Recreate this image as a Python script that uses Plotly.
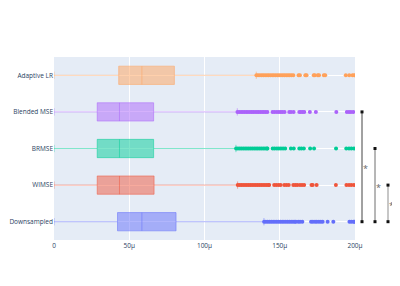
import plotly.graph_objects as go

# categories bottom -> top
categories = ["Downsampled", "WIMSE", "BRMSE", "Blended MSE", "Adaptive LR"]
colors = ["#636EFA", "#EF553B", "#00CC96", "#AB63FA", "#FFA15A"]

# box statistics (microseconds)
lower_fence = [0, 0, 0, 0, 0]
q1 = [42.2, 28.7, 28.7, 28.7, 43.0]
median = [58.4, 43.5, 43.5, 43.5, 58.4]
q3 = [81.1, 66.5, 66.2, 66.2, 80.0]
upper_fence = [139.5, 122.0, 120.9, 121.8, 134.4]

# outliers (microseconds)
out_downsampled = [139.6, 140.8, 142.0, 143.2, 144.4, 145.6, 146.8, 148.0, 149.2, 150.4,
                   151.6, 152.8, 154.0, 155.2, 156.4, 157.6, 158.8, 160.0, 160.7,
                   162.3, 163.5, 165.0, 170.8, 172.0, 173.4, 174.6, 176.0, 177.3, 178.5,
                   181.8, 185.6, 196.3, 197.6, 199.0, 199.8]
out_wimse = [122.1, 123.3, 124.5, 125.7, 126.9, 128.1, 129.3, 130.5, 131.7, 132.9, 134.1,
             135.3, 136.5, 137.7, 138.9, 140.1, 141.3, 142.5, 143.0,
             146.3, 147.7, 149.2, 150.6, 153.0, 154.5, 156.0, 159.0, 160.4, 161.7,
             163.4, 164.8, 166.2, 171.1, 171.9, 174.5, 187.3, 194.3, 196.0, 197.5, 199.2]
out_brmse = [121.0, 122.2, 123.4, 124.6, 125.8, 127.0, 128.2, 129.4, 130.6, 131.8, 133.0,
             134.2, 135.4, 136.6, 137.8, 139.0, 140.2, 141.4, 141.8,
             145.3, 146.6, 148.1, 149.4, 150.8, 152.2, 153.6, 157.4, 159.3,
             163.0, 164.4, 166.0, 170.2, 172.8, 187.4, 194.2, 196.0, 197.6, 199.3]
out_blended = [121.9, 123.1, 124.3, 125.4, 126.6, 127.8, 128.9, 130.1, 131.3, 132.4, 133.6,
               134.8, 135.9, 137.1, 138.3, 139.4, 140.6, 141.8,
               145.2, 146.5, 148.0, 149.3, 150.6, 151.8, 153.2, 156.3, 157.5, 159.2,
               163.0, 164.0, 165.2, 166.3, 170.0, 174.0, 187.6, 194.6, 196.0, 197.3, 198.8]
out_adaptive = [134.5, 135.6, 136.8, 138.0, 139.1, 140.3, 141.5, 142.6, 143.8, 145.0, 146.1,
                147.3, 148.5, 149.6, 150.8, 152.0, 153.1, 154.3, 155.5, 156.6, 157.8, 159.0,
                162.5, 163.4, 167.0, 167.8, 172.6, 173.3, 175.3, 176.1, 179.3, 180.2,
                193.9, 196.2, 198.4, 199.6]
outliers = [out_downsampled, out_wimse, out_brmse, out_blended, out_adaptive]

# significance brackets: (category a, category b, label)
brackets = [("Blended MSE", "Downsampled", "*"),
            ("BRMSE", "Downsampled", "*"),
            ("WIMSE", "Downsampled", "*")]

tick_vals = [0, 50, 100, 150, 200]
tick_text = ["0", "50\u03bc", "100\u03bc", "150\u03bc", "200\u03bc"]

fig = go.Figure()
for i, cat in enumerate(categories):
    fig.add_trace(go.Box(
        y=[cat], orientation="h",
        q1=[q1[i]], median=[median[i]], q3=[q3[i]],
        lowerfence=[lower_fence[i]], upperfence=[upper_fence[i]],
        boxpoints=False, width=0.5, whiskerwidth=0.4,
        line=dict(color=colors[i], width=0.5),
        name=cat, showlegend=False,
    ))
    fig.add_trace(go.Scatter(
        x=outliers[i], y=[cat] * len(outliers[i]), mode="markers",
        marker=dict(color=colors[i], size=4), showlegend=False, cliponaxis=True,
    ))

# page body adds an 8px offset; figure is sized to fit the 400x286 window
W, H = 392, 278
ml, mr, mt, mb = 46, 45, 49, 46
pw = W - ml - mr
n = len(categories)

def paper_y(cat):
    return (categories.index(cat) + 0.5) / n

bx_px = [354, 367, 380]   # bracket x positions in figure pixels
bracket_colors = ["#444444", "#6f6f6f", "#8f8f8f"]
shapes = []
annotations = []
for k, (a, b, lab) in enumerate(brackets):
    xp = (bx_px[k] - ml) / pw
    ya, yb = paper_y(a), paper_y(b)
    shapes.append(dict(type="line", xref="paper", yref="paper", x0=xp, x1=xp, y0=ya, y1=yb,
                       line=dict(color=bracket_colors[k], width=1)))
    for yy in (ya, yb):
        shapes.append(dict(type="rect", xref="paper", yref="paper", xsizemode="pixel",
                           ysizemode="pixel", xanchor=xp, yanchor=yy, x0=-1.5, x1=1.5,
                           y0=-1.5, y1=1.5, fillcolor="#111", line=dict(width=0)))
    annotations.append(dict(xref="paper", yref="paper", x=xp, y=(ya + yb) / 2, text=lab,
                            showarrow=False, xanchor="left", yanchor="middle",
                            xshift=0, yshift=-2, borderpad=0,
                            font=dict(size=9, color="#666")))

fig.update_layout(
    width=W, height=H,
    margin=dict(l=ml, r=mr, t=mt, b=mb, autoexpand=False),
    font=dict(family="Open Sans", size=6.5, color="#2a3f5f"),
    plot_bgcolor="#E5ECF6", paper_bgcolor="white",
    xaxis=dict(range=[0, 200], tickvals=tick_vals, ticktext=tick_text, showgrid=True,
               gridcolor="white", zeroline=False, automargin=False),
    yaxis=dict(type="category", categoryorder="array", categoryarray=categories,
               range=[-0.5, n - 0.5], showgrid=True, gridcolor="white", automargin=False),
    shapes=shapes, annotations=annotations,
)
fig.write_html("out.html")
